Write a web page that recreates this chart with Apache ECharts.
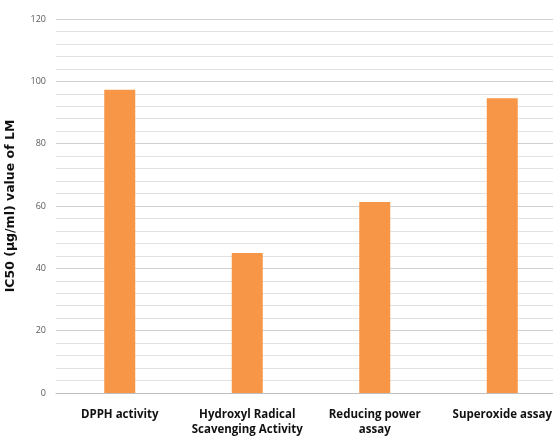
<!DOCTYPE html>
<html><head><meta charset="utf-8">
<script src="https://cdn.jsdelivr.net/npm/echarts@6/dist/echarts.min.js"></script>
<style>html,body{margin:0;padding:0;background:#fff}#c{width:553px;height:436px}</style>
</head><body><div id="c"></div>
<script>
const categories = ["DPPH activity", "Hydroxyl Radical\nScavenging Activity", "Reducing power\nassay", "Superoxide assay"];
const values = [97.3, 44.9, 61.3, 94.6];
const yTicks = [0, 20, 40, 60, 80, 100, 120];

const chart = echarts.init(document.getElementById('c'), null, {renderer: 'canvas'});
chart.setOption({
  animation: false,
  backgroundColor: '#fff',
  grid: {left: 56, top: 19, width: 510, height: 374, containLabel: false, outerBoundsMode: 'none'},
  xAxis: {
    type: 'category', data: categories,
    axisLine: {lineStyle: {color: '#bfbfbf', width: 1}},
    axisTick: {show: false},
    axisLabel: {interval: 0, margin: 14, color: '#111', fontWeight: 'bold', fontSize: 11.5,
      fontFamily: 'Open Sans', lineHeight: 15, hideOverlap: false}
  },
  yAxis: {
    type: 'value', min: yTicks[0], max: yTicks[yTicks.length-1], interval: 20,
    name: 'IC50 (µg/ml) value of LM', nameLocation: 'middle', nameGap: 39,
    nameTextStyle: {fontWeight: 'bold', fontSize: 12.5, color: '#111', fontFamily: 'DejaVu Sans'},
    axisLine: {show: false}, axisTick: {show: false},
    axisLabel: {color: '#595959', fontSize: 9, margin: 10, fontFamily: 'Open Sans'},
    splitLine: {lineStyle: {color: '#d0d0d0', width: 1}},
    minorTick: {show: false, splitNumber: 5},
    minorSplitLine: {show: true, lineStyle: {color: '#e2e2e2', width: 1}}
  },
  series: [{
    type: 'bar', data: values, barWidth: 31,
    itemStyle: {color: '#f79646'}
  }]
});
</script></body></html>
